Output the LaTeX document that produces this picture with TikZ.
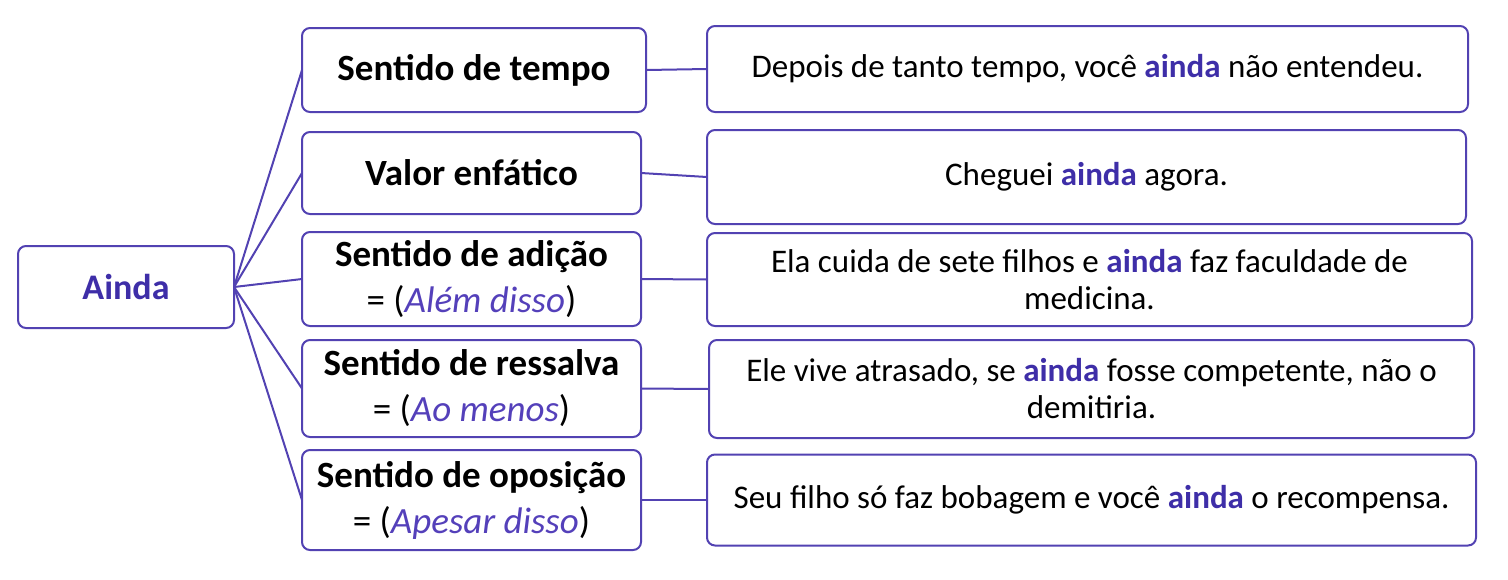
\documentclass[tikz,border=0pt]{standalone}
\usepackage{fontspec}
\setmainfont{Carlito}
\definecolor{lineC}{RGB}{82,66,178}
\definecolor{aindaC}{RGB}{62,46,168}
\definecolor{italC}{RGB}{84,64,186}
\newcommand{\ainda}{\textbf{\textcolor{aindaC}{ainda}}}
\begin{document}
\begin{tikzpicture}[x=0.5pt,y=0.5pt,yscale=-1,
  box/.style={draw=lineC,line width=1pt,rounded corners=4pt,align=center,inner sep=2pt,outer sep=0pt},
  midbox/.style={box,font=\fontsize{18.5}{23}\selectfont\bfseries},
  exbox/.style={box,font=\fontsize{16.5}{18.5}\selectfont},
  link/.style={draw=lineC,line width=1pt}]
\useasboundingbox (0,0) rectangle (1508,579);

% Root
\node [box,minimum width=108pt,minimum height=41pt,font=\fontsize{18}{20}\selectfont\bfseries,text=aindaC] (ainda) at (126,287) {Ainda};

% Senses
\node [midbox,minimum width=172pt,minimum height=42pt] (tempo) at (474,70) {Sentido de tempo};
\node [midbox,minimum width=169.5pt,minimum height=41pt] (enfase) at (471.5,173) {Valor enfático};
\node [midbox,minimum width=169.5pt,minimum height=47pt] (adicao) at (471.5,279) {Sentido de adição\\ \mdseries = (\textcolor{italC}{\itshape Além disso})};
\node [midbox,minimum width=169.5pt,minimum height=48.5pt] (ressalva) at (471.5,388.5) {Sentido de ressalva\\ \mdseries = (\textcolor{italC}{\itshape Ao menos})};
\node [midbox,minimum width=169.5pt,minimum height=50pt] (oposicao) at (471.5,500) {Sentido de oposição\\ \mdseries = (\textcolor{italC}{\itshape Apesar disso})};

% Examples
\node [exbox,minimum width=380.5pt,minimum height=43pt] (extempo) at (1087.5,69) {Depois de tanto tempo, você \ainda{} não entendeu.};
\node [exbox,minimum width=379.5pt,minimum height=47pt] (exenfase) at (1086.5,177) {Cheguei \ainda{} agora.};
\node [exbox,minimum width=382.5pt,minimum height=46.5pt] (exadicao) at (1089.5,279.5) {Ela cuida de sete filhos e \ainda{} faz faculdade de\\ medicina.};
\node [exbox,minimum width=382.5pt,minimum height=49pt] (exressalva) at (1091.5,389) {Ele vive atrasado, se \ainda{} fosse competente, não o\\ demitiria.};
\node [exbox,minimum width=384.5pt,minimum height=45.5pt] (exoposicao) at (1091.5,500) {Seu filho só faz bobagem e você \ainda{} o recompensa.};

% Connectors
\foreach \s/\e in {tempo/extempo,enfase/exenfase,adicao/exadicao,ressalva/exressalva,oposicao/exoposicao}
{
  \draw [link] (ainda.east) -- (\s.west);
  \draw [link] (\s.east) -- (\e.west);
}
\end{tikzpicture}
\end{document}
